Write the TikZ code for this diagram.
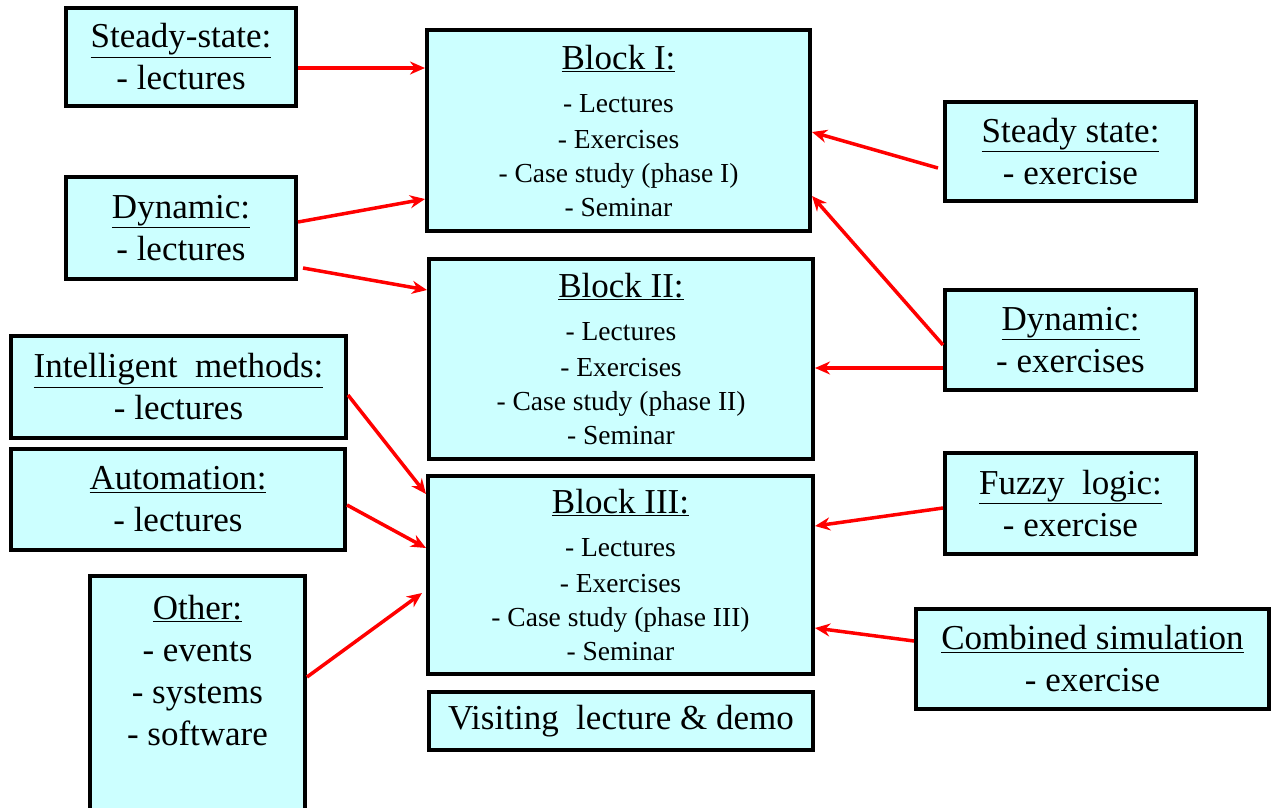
\documentclass[tikz,border=0pt]{standalone}
\usepackage{fontspec}
\setmainfont{Liberation Serif}
\usetikzlibrary{arrows.meta}
\definecolor{boxcyan}{HTML}{CCFFFF}
\definecolor{arrred}{HTML}{FF0000}
\tikzset{
  box/.style={draw=black, line width=4pt, fill=boxcyan, align=center, inner sep=0pt,
    font=\fontsize{35}{42}\selectfont},
  blockbox/.style={box, font=\fontsize{27.5}{34}\selectfont},
  arr/.style={draw=arrred, line width=3.5pt, -{Stealth[length=15pt,width=13pt]}}
}
\newcommand{\bttl}[1]{{\fontsize{35}{42}\selectfont\underline{#1}}}
\begin{document}
\begin{tikzpicture}[x=1pt,y=-1pt]
\useasboundingbox (0,0) rectangle (1273,807);
% left boxes
\node[box, minimum width=230pt, minimum height=98pt] (ssl) at (181,57) {\underline{Steady-state:}\\- lectures};
\node[box, minimum width=230pt, minimum height=102pt] (dyl) at (181,228) {\underline{Dynamic:}\\- lectures};
\node[box, minimum width=335pt, minimum height=102pt] (im) at (178.5,387) {\underline{Intelligent\ \ methods:}\\- lectures};
\node[box, minimum width=334pt, minimum height=101pt] (au) at (178,499.5) {\underline{Automation:}\\- lectures};
\node[box, minimum width=215pt, minimum height=234pt] (ot) at (197.5,693) {\underline{Other:}\\- events\\- systems\\- software\\[4pt]\mbox{}};
% blocks
\node[blockbox, minimum width=383pt, minimum height=201pt] (b1) at (618.5,130.5)
  {\bttl{Block I:}\\[9pt]- Lectures\\[2pt]- Exercises\\- Case study (phase I)\\- Seminar};
\node[blockbox, minimum width=384pt, minimum height=200pt] (b2) at (621,359)
  {\bttl{Block II:}\\[9pt]- Lectures\\[2pt]- Exercises\\- Case study (phase II)\\- Seminar};
\node[blockbox, minimum width=385pt, minimum height=198pt] (b3) at (620.5,575)
  {\bttl{Block III:}\\[9pt]- Lectures\\[2pt]- Exercises\\- Case study (phase III)\\- Seminar};
\node[box, minimum width=384pt, minimum height=58pt] (vis) at (621,721) {Visiting\ \ lecture \& demo};
% right boxes
\node[box, minimum width=251pt, minimum height=99pt] (sse) at (1070.5,151.5) {\underline{Steady state:}\\- exercise};
\node[box, minimum width=251pt, minimum height=100pt] (dye) at (1070.5,340) {\underline{Dynamic:}\\- exercises};
\node[box, minimum width=251pt, minimum height=101pt] (fz) at (1070.5,503.5) {\underline{Fuzzy\ \ logic:}\\- exercise};
\node[box, minimum width=353pt, minimum height=100pt] (cs) at (1092.5,659) {\underline{Combined simulation}\\- exercise};
% arrows
\draw[arr] ([yshift=-11pt]ssl.east) -- ([yshift=62.5pt]b1.west);
\draw[arr] ([yshift=6pt]dyl.east) -- ([yshift=-68.5pt]b1.west);
\draw[arr] ([xshift=5pt,yshift=-40pt]dyl.east) -- ([yshift=69pt]b2.west);
\draw[arr] ([xshift=-5pt,yshift=-16.5pt]sse.west) -- ([yshift=-1.5pt]b1.east);
\draw[arr] ([yshift=-5pt]dye.west) -- ([yshift=-65.5pt]b1.east);
\draw[arr] ([yshift=-28pt]dye.west) -- ([yshift=-9pt]b2.east);
\draw[arr] ([yshift=-8pt]im.east) -- ([yshift=81pt]b3.west);
\draw[arr] ([yshift=-5.5pt]au.east) -- ([yshift=27pt]b3.west);
\draw[arr] ([yshift=16pt]ot.east) -- ([xshift=-4pt,yshift=-18pt]b3.west);
\draw[arr] ([yshift=-4.5pt]fz.west) -- ([yshift=49pt]b3.east);
\draw[arr] ([yshift=18pt]cs.west) -- ([yshift=-53pt]b3.east);
\end{tikzpicture}
\end{document}
